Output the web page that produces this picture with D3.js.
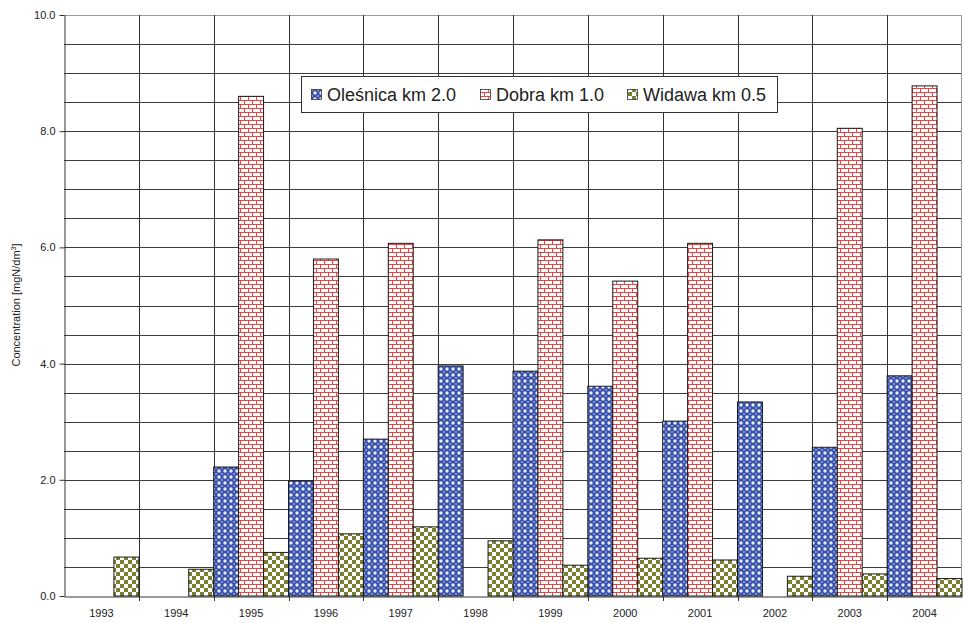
<!DOCTYPE html>
<html><head><meta charset="utf-8">
<script src="https://cdn.jsdelivr.net/npm/d3@7"></script>
<style>body{margin:0;background:#fff;} svg{display:block;}</style>
</head><body>
<svg id="c" width="963" height="623"></svg>
<script>
const years = ["1993","1994","1995","1996","1997","1998","1999","2000","2001","2002","2003","2004"];
const olesnica = [null,null,2.22,1.98,2.70,3.96,3.87,3.61,3.01,3.34,2.56,3.79];
const dobra    = [null,null,8.60,5.80,6.07,null,6.13,5.42,6.07,null,8.05,8.78];
const widawa   = [0.67,0.46,0.75,1.07,1.19,0.95,0.53,0.65,0.62,0.34,0.38,0.30];
const seriesNames = ["Oleśnica km 2.0","Dobra km 1.0","Widawa km 0.5"];
const yTicks = [0,2,4,6,8,10];

const svg = d3.select("#c");
const m = {l:64, r:962, t:15, b:596};
const x = d3.scaleBand().domain(years).range([m.l, m.r]).paddingInner(0).paddingOuter(0);
const xs = d3.scaleBand().domain([0,1,2]).range([0, x.bandwidth()]).padding(0);
const y = d3.scaleLinear().domain([0,10]).range([m.b, m.t]);

const defs = svg.append("defs");
// blue dotted pattern
const p1 = defs.append("pattern").attr("id","pBlue").attr("patternUnits","userSpaceOnUse").attr("width",6).attr("height",6);
p1.append("rect").attr("width",6).attr("height",6).attr("fill","#3850a9");
p1.append("circle").attr("cx",3).attr("cy",3).attr("r",1.7).attr("fill","#e8ecfa");
p1.append("circle").attr("cx",0).attr("cy",0).attr("r",1.0).attr("fill","#9aa8de");
p1.append("circle").attr("cx",6).attr("cy",0).attr("r",1.0).attr("fill","#9aa8de");
p1.append("circle").attr("cx",0).attr("cy",6).attr("r",1.0).attr("fill","#9aa8de");
p1.append("circle").attr("cx",6).attr("cy",6).attr("r",1.0).attr("fill","#9aa8de");
// brick pattern
const p2 = defs.append("pattern").attr("id","pBrick").attr("patternUnits","userSpaceOnUse").attr("width",8).attr("height",8);
p2.append("rect").attr("width",8).attr("height",8).attr("fill","#ffffff");
p2.append("path").attr("d","M0,0.5H8 M0,4.5H8 M0.5,0V4 M4.5,4V8").attr("stroke","#f04040").attr("stroke-width",1).attr("fill","none");
// checkerboard
const p3 = defs.append("pattern").attr("id","pCheck").attr("patternUnits","userSpaceOnUse").attr("width",8).attr("height",8);
p3.append("rect").attr("width",8).attr("height",8).attr("fill","#ffffff");
p3.append("rect").attr("x",0).attr("y",0).attr("width",4).attr("height",4).attr("fill","#7b7f32");
p3.append("rect").attr("x",4).attr("y",4).attr("width",4).attr("height",4).attr("fill","#7b7f32");
const fills = ["url(#pBlue)","url(#pBrick)","url(#pCheck)"];

// horizontal gridlines every 0.5
const grid = d3.range(0.5, 10.01, 0.5);
svg.append("g").selectAll("line").data(grid).join("line")
  .attr("x1", m.l).attr("x2", m.r)
  .attr("y1", d=>Math.round(y(d))+0.5).attr("y2", d=>Math.round(y(d))+0.5)
  .attr("stroke", d=> d===10 ? "#9a9a9a" : "#3c3c3c").attr("stroke-width",1);
// vertical gridlines at category boundaries
svg.append("g").selectAll("line").data(years.slice(1)).join("line")
  .attr("x1", d=>Math.round(x(d))+0.5).attr("x2", d=>Math.round(x(d))+0.5)
  .attr("y1", m.t).attr("y2", m.b)
  .attr("stroke","#333").attr("stroke-width",1);
svg.append("line").attr("x1",m.r-0.5).attr("x2",m.r-0.5).attr("y1",m.t).attr("y2",m.b).attr("stroke","#9a9a9a");

// bars
const data = [olesnica, dobra, widawa];
data.forEach((arr, si) => {
  svg.append("g").selectAll("rect").data(years.map((yr,i)=>({yr, v:arr[i]})).filter(d=>d.v!=null)).join("rect")
    .attr("x", d=>x(d.yr)+xs(si))
    .attr("width", xs.bandwidth())
    .attr("y", d=>y(d.v))
    .attr("height", d=>y(0)-y(d.v))
    .attr("fill", fills[si])
    .attr("stroke","#1a1a1a").attr("stroke-width",1);
});

// axes
const yAxis = d3.axisLeft(y).tickValues(yTicks).tickFormat(d3.format(".1f")).tickSize(5).tickSizeOuter(0);
const gy = svg.append("g").attr("transform",`translate(${m.l+0.5},0)`).call(yAxis);
gy.select(".domain").attr("stroke","#333");
gy.selectAll(".tick line").attr("stroke","#333");
gy.selectAll("text").attr("font-family","Arial, 'Liberation Sans', sans-serif").attr("font-size",11).attr("fill","#222").attr("dx","-1");

const xAxis = d3.axisBottom(x).tickSize(0).tickSizeOuter(0);
const gx = svg.append("g").attr("transform",`translate(0,${m.b+0.5})`).call(xAxis);
gx.select(".domain").attr("stroke","#333");
gx.selectAll("text").attr("font-family","Arial, 'Liberation Sans', sans-serif").attr("font-size",11).attr("fill","#222").attr("y",13).attr("dy","0.71em");
// x tick marks at boundaries
svg.append("g").selectAll("line").data(years.slice(1)).join("line")
  .attr("x1", d=>Math.round(x(d))+0.5).attr("x2", d=>Math.round(x(d))+0.5)
  .attr("y1", m.b).attr("y2", m.b+5).attr("stroke","#333");

// y label
svg.append("text").attr("transform","translate(20,305) rotate(-90)")
  .attr("text-anchor","middle").attr("font-family","Arial, 'Liberation Sans', sans-serif").attr("font-size",11).attr("fill","#222")
  .html('Concentration [mgN/dm<tspan dy="-4" font-size="7">3</tspan><tspan dy="4">]</tspan>');

// legend
const lg = svg.append("g");
lg.append("rect").attr("x",301.5).attr("y",76.5).attr("width",476).attr("height",36).attr("fill","#fff").attr("stroke","#333");
const lx = [311, 480, 627];
seriesNames.forEach((n,i)=>{
  lg.append("rect").attr("x",lx[i]+0.5).attr("y",89.5).attr("width",10).attr("height",10).attr("fill",fills[i]).attr("stroke","#333").attr("stroke-width",0.8);
  lg.append("text").attr("x",lx[i]+16).attr("y",101).attr("font-family","Arial, 'Liberation Sans', sans-serif").attr("font-size",18).attr("fill","#222").text(n);
});
</script>
</body></html>
